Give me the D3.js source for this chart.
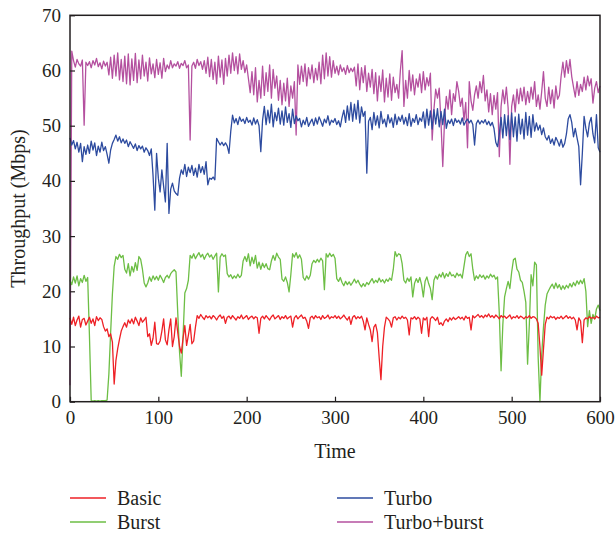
<!DOCTYPE html>
<html>
<head>
<meta charset="utf-8">
<script src="https://cdn.jsdelivr.net/npm/d3@7"></script>
<style>
  html, body { margin: 0; padding: 0; background: #fff; }
  svg { display: block; }
  text { font-family: "Liberation Serif", "DejaVu Serif", serif; fill: #231f20; }
</style>
</head>
<body>
<svg id="chart" width="616" height="535"></svg>
<script>
// ---- data (sampled every 2 time units, t = 0..600) ----
const timeStep = 2;
const xTicks = [0, 100, 200, 300, 400, 500, 600];
const yTicks = [0, 10, 20, 30, 40, 50, 60, 70];
const seriesNames = ["Basic", "Burst", "Turbo", "Turbo+burst"];
const seriesColors = ["#ee2026", "#6dbe45", "#2d4b9f", "#b4509f"];

const basic = [
  15.2,14.0,15.3,13.8,14.8,15.5,13.5,14.9,15.1,13.9,
  14.6,15.3,14.2,15.0,13.8,15.4,14.7,15.2,14.9,13.6,
  12.8,13.2,11.8,12.3,10.8,3.2,7.5,9.6,11.3,12.8,
  13.6,14.3,13.5,14.8,14.2,15.0,14.1,15.3,14.6,13.8,
  15.2,14.4,14.8,15.3,11.8,12.3,10.2,11.5,14.4,10.5,
  10.4,11.0,12.8,15.0,11.2,10.3,13.0,15.0,10.0,11.8,
  15.2,12.5,10.0,8.8,11.5,13.8,10.2,12.0,14.0,10.5,
  11.0,13.5,15.6,15.1,15.8,15.3,14.9,15.6,15.2,15.5,
  15.0,15.6,15.3,14.8,15.4,15.7,15.1,15.5,14.2,15.3,
  15.5,15.0,15.6,15.2,14.8,15.4,15.1,15.7,15.0,15.3,
  15.6,14.9,15.3,15.5,15.0,15.4,15.2,12.4,15.1,15.5,
  15.0,15.6,15.2,14.8,15.4,15.7,15.0,15.3,15.6,14.9,
  15.4,15.1,15.6,15.0,15.3,15.5,13.5,15.2,15.6,15.0,
  15.4,15.7,15.1,15.3,14.6,13.3,15.2,15.5,15.0,15.6,
  15.2,15.4,14.9,15.6,15.1,15.3,15.7,15.0,15.4,15.2,
  15.6,15.1,15.5,15.0,15.3,15.7,15.2,14.8,15.4,14.0,
  15.3,15.6,15.0,15.4,15.1,15.5,14.6,13.0,15.2,14.0,
  13.0,10.9,13.5,14.0,12.5,8.0,4.0,10.0,13.5,15.3,
  15.0,14.6,13.5,15.2,15.4,14.8,15.3,15.0,15.5,15.1,
  15.3,14.8,12.1,15.2,15.0,15.4,14.9,15.3,15.0,12.4,
  15.2,14.8,15.3,11.8,15.0,15.4,15.1,14.7,15.3,14.0,
  14.3,13.8,14.6,15.0,14.5,15.2,14.8,15.3,14.9,15.1,
  15.4,15.0,15.3,14.8,15.5,15.1,15.3,13.0,15.6,15.2,
  15.5,15.8,15.3,15.6,15.2,15.7,15.4,15.9,15.3,15.6,
  15.2,15.7,15.4,15.0,15.6,15.3,15.5,15.1,15.4,15.7,
  15.0,15.4,15.2,15.6,15.1,15.5,15.3,15.0,15.4,15.2,
  15.6,15.1,15.4,15.3,15.0,14.2,10.0,4.8,9.5,14.0,
  15.3,15.0,15.5,15.2,15.4,14.9,15.3,15.1,15.5,15.0,
  15.3,15.6,15.1,15.4,15.0,15.3,14.8,13.0,15.2,14.6,
  10.7,14.8,15.2,15.0,15.4,15.1,15.3,15.0,15.5,15.2,
  15.3
];

const burst = [
  22.0,21.2,22.6,21.5,22.8,21.0,22.3,21.6,22.9,21.8,
  22.5,12.0,0.2,0.1,0.2,0.1,0.2,0.1,0.2,0.2,
  0.2,0.3,5.0,12.5,19.5,24.5,26.3,25.8,26.7,26.1,
  26.5,24.0,23.3,25.0,22.8,24.5,23.5,25.2,23.8,26.3,
  25.8,24.0,21.5,20.8,21.5,22.6,21.8,22.8,22.1,22.7,
  22.0,22.9,22.3,21.6,22.5,22.9,22.4,23.2,23.6,23.9,
  23.5,16.0,9.0,4.6,12.0,19.7,20.5,22.0,26.5,26.0,
  26.8,25.9,26.5,27.0,26.2,26.7,25.8,26.5,26.9,26.2,
  26.6,25.8,26.4,26.9,19.9,26.2,26.8,26.3,26.6,23.2,
  22.6,23.0,22.3,22.8,22.4,23.1,22.5,22.9,25.5,26.3,
  25.4,26.8,24.6,26.2,25.0,26.5,24.2,25.3,24.0,25.1,
  24.3,25.0,24.1,23.9,25.5,26.5,25.6,26.9,26.2,25.8,
  22.2,21.8,22.6,21.6,19.9,23.0,26.8,26.2,27.0,26.0,
  26.6,25.8,22.5,22.0,22.8,22.2,22.9,25.0,25.6,25.2,
  25.8,25.3,26.0,25.5,20.3,26.8,26.2,26.9,26.3,26.7,
  26.0,22.3,21.8,22.5,21.6,21.0,21.8,21.2,21.7,21.1,
  21.6,22.2,21.5,22.0,21.3,20.8,21.4,20.9,21.6,21.2,
  21.8,22.3,21.5,22.0,21.6,22.4,21.7,22.1,21.5,22.2,
  21.8,22.4,22.0,24.0,27.2,26.3,26.8,26.6,25.0,22.0,
  21.5,22.4,21.8,22.6,19.0,21.4,22.3,21.6,22.5,21.2,
  19.0,21.8,22.6,21.4,20.5,18.5,22.0,22.8,22.2,23.1,
  22.6,23.4,22.4,23.2,22.7,23.5,22.8,23.0,22.5,23.3,
  22.8,23.1,22.4,24.5,26.6,27.2,26.3,26.8,24.0,22.0,
  22.8,22.3,23.0,22.5,22.9,22.2,22.8,22.4,23.1,22.6,
  22.9,22.2,22.6,16.0,5.6,14.0,19.0,20.5,21.8,20.5,
  23.5,25.7,26.0,24.0,23.5,22.0,21.6,20.0,18.0,6.8,
  14.0,23.0,21.0,25.3,24.8,8.0,0.0,8.5,13.5,17.5,
  19.5,20.2,20.8,21.3,20.5,21.5,20.6,21.2,20.3,21.0,
  20.4,21.1,20.6,21.4,20.8,21.6,21.0,21.9,21.3,22.0,
  21.4,22.3,20.0,13.6,16.5,14.2,15.8,15.0,16.8,17.5,
  16.5
];

const turbo = [
  47.8,46.5,47.3,45.8,47.0,45.2,46.8,43.5,46.2,44.8,
  46.5,45.0,47.2,45.6,46.9,44.6,46.3,45.2,47.0,45.5,
  46.2,44.8,43.2,45.6,46.8,47.5,48.3,47.2,48.0,46.9,
  47.6,46.8,47.4,46.2,47.1,46.5,45.9,46.7,45.5,46.4,
  45.8,46.3,45.2,46.0,45.5,44.6,45.8,41.0,34.7,45.0,
  40.5,38.0,42.0,39.0,36.2,46.8,34.1,38.5,39.6,38.2,
  37.7,37.4,40.5,42.0,41.2,43.0,40.8,42.5,41.5,42.8,
  41.0,42.3,40.7,43.0,41.5,42.6,41.2,43.5,39.3,40.5,
  40.3,40.7,40.2,47.7,47.1,46.5,47.0,46.4,46.9,46.3,
  45.0,49.0,51.9,50.5,51.3,50.2,51.6,50.8,51.2,50.4,
  51.5,50.6,51.0,50.1,51.4,50.3,51.1,50.0,45.3,51.0,
  53.5,50.2,52.8,50.5,53.9,49.8,52.4,50.9,53.2,50.3,
  52.7,50.1,53.4,50.6,52.2,49.7,53.0,50.4,51.8,50.9,
  51.3,49.8,51.0,50.2,51.5,49.9,50.6,51.2,50.0,51.4,
  50.3,51.6,50.8,49.9,51.2,50.5,51.8,50.1,51.0,50.6,
  51.3,50.2,50.9,49.8,51.5,52.8,50.6,53.6,51.0,54.2,
  50.8,53.9,51.2,54.6,50.5,53.4,51.7,52.6,41.4,50.8,
  51.5,49.3,52.4,50.1,51.8,49.6,52.6,50.4,51.2,49.8,
  52.0,50.5,51.4,49.7,52.1,50.2,51.6,50.8,51.9,50.3,
  51.5,50.0,52.2,49.9,51.3,50.6,52.0,50.2,51.4,50.8,
  52.5,49.6,53.0,50.1,52.7,49.4,52.9,50.3,53.1,49.8,
  52.6,50.2,53.0,49.5,51.0,50.4,51.2,50.0,51.3,50.6,
  51.0,50.3,51.4,50.1,50.8,51.2,50.5,51.0,50.2,46.5,
  50.4,51.0,50.3,50.9,50.5,51.1,50.2,50.8,50.0,50.6,
  49.5,47.0,46.2,48.5,51.5,47.8,52.0,48.2,51.8,47.5,
  52.3,48.0,51.6,47.2,52.1,48.5,51.2,47.6,52.4,48.3,
  51.7,47.9,52.0,49.0,50.5,49.2,50.1,48.4,49.6,48.0,
  47.4,48.2,46.8,47.6,46.5,47.9,47.2,46.3,47.5,46.1,
  46.8,48.5,51.2,52.0,50.6,48.0,49.5,47.8,46.2,39.3,
  45.0,51.7,49.5,48.0,50.5,51.5,48.5,46.9,52.0,46.0,
  45.2
];

const turboBurst = [
  3.0,63.5,61.8,60.6,62.0,61.2,60.8,61.9,50.1,61.5,
  60.9,61.6,60.5,61.8,61.0,62.2,60.7,61.4,60.3,61.7,
  60.8,61.5,59.2,62.4,58.6,62.8,59.0,63.2,58.3,62.0,
  58.0,62.6,57.6,63.0,57.4,62.1,58.2,63.1,57.8,61.9,
  58.5,62.8,59.0,61.5,58.1,62.3,59.4,61.2,58.7,62.0,
  59.3,61.4,58.6,62.2,59.8,61.0,60.3,61.8,60.5,61.2,
  60.8,61.6,60.4,61.3,60.9,61.8,60.5,61.0,47.4,60.8,
  61.5,60.4,62.0,60.9,61.6,60.2,61.8,59.5,62.4,58.9,
  62.0,58.4,61.5,57.6,62.6,58.8,61.9,57.5,62.2,59.0,
  62.8,59.5,63.2,60.0,62.5,59.4,63.0,60.2,61.8,59.6,
  61.0,58.5,56.0,59.8,55.6,60.5,54.3,58.2,55.0,60.8,
  55.5,59.6,56.2,61.0,55.0,60.2,56.8,59.0,54.6,58.2,
  53.8,57.7,54.5,58.6,53.5,57.2,55.0,58.0,48.3,61.0,
  57.5,60.8,58.0,61.2,57.2,60.5,58.5,61.0,57.8,60.4,
  58.3,61.5,57.6,62.8,58.5,63.2,59.0,62.5,58.8,61.8,
  59.5,60.8,59.2,61.0,59.8,60.5,59.3,60.9,59.6,60.4,
  59.8,60.6,57.2,61.2,56.5,60.5,57.8,60.9,56.2,59.5,
  57.0,60.2,55.8,59.6,54.5,59.0,56.2,60.1,54.3,58.6,
  55.2,59.4,54.6,58.8,56.0,57.5,55.0,60.0,63.6,53.5,
  58.2,55.0,60.0,56.3,59.2,55.6,58.5,57.0,59.4,56.0,
  59.8,56.5,58.7,57.2,59.5,47.4,53.0,56.6,55.0,56.8,
  50.5,42.6,51.0,55.3,53.0,56.5,52.0,55.8,54.4,58.0,
  56.2,53.5,55.0,51.0,54.2,46.0,58.0,54.5,52.8,55.6,
  57.2,55.0,58.0,56.0,59.1,54.5,56.5,52.5,55.8,52.0,
  55.5,53.0,56.0,44.4,53.5,56.5,54.0,57.0,53.2,43.0,
  53.5,55.6,52.5,56.6,54.0,56.8,54.5,57.0,53.8,56.2,
  54.2,57.0,54.8,58.0,53.5,55.6,53.0,56.2,59.8,55.0,
  53.5,57.0,54.0,56.5,53.2,57.2,54.8,55.5,59.0,61.5,
  58.8,61.8,59.5,62.0,58.9,57.0,55.2,58.0,55.5,57.5,
  56.2,58.8,56.5,59.0,57.2,58.5,54.1,56.8,58.0,56.0,
  57.2
];

const seriesValues = [basic, burst, turbo, turboBurst];

// ---- drawing ----
const svg = d3.select("#chart");
const mLeft = 70, mRight = 600, mTop = 15.3, mBottom = 401.7;

const x = d3.scaleLinear().domain([0, 600]).range([mLeft, mRight]);
const y = d3.scaleLinear().domain([0, 70]).range([mBottom, mTop]);

const line = d3.line()
  .x((d, i) => x(i * timeStep))
  .y(d => y(d));

// draw order: turbo+burst, turbo, burst, basic
const order = [3, 2, 1, 0];
const g = svg.append("g");
order.forEach(k => {
  g.append("path")
    .datum(seriesValues[k])
    .attr("fill", "none")
    .attr("stroke", seriesColors[k])
    .attr("stroke-width", 1.3)
    .attr("stroke-linejoin", "round")
    .attr("d", line);
});

// axes
const xAxis = d3.axisBottom(x).tickValues(xTicks).tickSize(-5).tickPadding(9).tickFormat(d3.format("d"));
const yAxis = d3.axisLeft(y).tickValues(yTicks).tickSize(-5).tickPadding(9).tickFormat(d3.format("d"));

const gx = svg.append("g").attr("transform", `translate(0,${mBottom})`).call(xAxis);
const gy = svg.append("g").attr("transform", `translate(${mLeft},0)`).call(yAxis);
[gx, gy].forEach(a => {
  a.select(".domain").remove();
  a.selectAll(".tick line").attr("stroke", "#231f20").attr("stroke-width", 1.2);
  a.selectAll(".tick text")
    .attr("font-family", "'Liberation Serif', serif")
    .attr("font-size", 19)
    .attr("fill", "#231f20");
});
gx.selectAll(".tick text").attr("dy", "0.71em");

// frame
svg.append("rect")
  .attr("x", mLeft).attr("y", mTop)
  .attr("width", mRight - mLeft).attr("height", mBottom - mTop)
  .attr("fill", "none").attr("stroke", "#231f20").attr("stroke-width", 1.5);

// axis titles
svg.append("text")
  .attr("x", (mLeft + mRight) / 2).attr("y", 458)
  .attr("text-anchor", "middle")
  .attr("font-size", 20)
  .text("Time");

svg.append("text")
  .attr("transform", `translate(25,${(mTop + mBottom) / 2}) rotate(-90)`)
  .attr("text-anchor", "middle")
  .attr("font-size", 20)
  .text("Throughput (Mbps)");

// legend
const legendPos = [[70, 498], [70, 522], [337, 498], [337, 522]];
seriesNames.forEach((name, k) => {
  const [lx, ly] = legendPos[k];
  svg.append("line")
    .attr("x1", lx).attr("x2", lx + 36)
    .attr("y1", ly).attr("y2", ly)
    .attr("stroke", seriesColors[k]).attr("stroke-width", 1.3);
  svg.append("text")
    .attr("x", lx + 47).attr("y", ly + 6.5)
    .attr("font-size", 20)
    .text(name);
});
</script>
</body>
</html>
